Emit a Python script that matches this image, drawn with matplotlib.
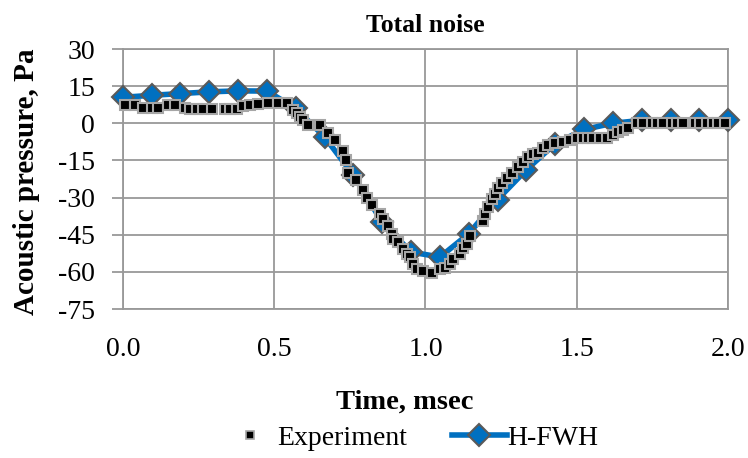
import matplotlib
matplotlib.use("Agg")
import matplotlib.pyplot as plt
from matplotlib.lines import Line2D

plt.rcParams['font.family'] = ['Liberation Serif', 'DejaVu Serif']
plt.rcParams['axes.unicode_minus'] = False

# experiment samples (time in msec, pressure in Pa)
exp_t = [0.007, 0.040, 0.066, 0.096, 0.116, 0.149, 0.172, 0.205, 0.221, 0.245,
         0.264, 0.294, 0.337, 0.354, 0.377, 0.397, 0.420, 0.446, 0.479, 0.512,
         0.542, 0.562, 0.575, 0.585, 0.595, 0.612, 0.651, 0.678, 0.701, 0.727,
         0.737, 0.744, 0.770, 0.793, 0.807, 0.823, 0.850, 0.860, 0.876, 0.889,
         0.893, 0.909, 0.926, 0.939, 0.949, 0.959, 0.972, 0.992, 1.021, 1.048,
         1.064, 1.081, 1.091, 1.114, 1.124, 1.137, 1.147, 1.190, 1.197, 1.207,
         1.220, 1.230, 1.240, 1.253, 1.269, 1.286, 1.306, 1.322, 1.339, 1.355,
         1.372, 1.388, 1.405, 1.428, 1.455, 1.478, 1.501, 1.521, 1.537, 1.554,
         1.577, 1.600, 1.620, 1.636, 1.653, 1.669, 1.699, 1.719, 1.749, 1.765,
         1.785, 1.815, 1.831, 1.851, 1.891, 1.907, 1.931, 1.950, 1.967, 1.990]
exp_p = [7.3, 7.3, 6.0, 6.0, 6.0, 7.3, 7.3, 6.0, 5.7, 5.7,
         5.7, 5.7, 5.7, 5.7, 5.7, 6.9, 7.3, 7.7, 8.0, 8.0,
         8.0, 5.5, 4.0, 2.6, 1.4, -0.6, -0.8, -4.0, -6.9, -11.0,
         -15.0, -19.9, -22.7, -26.8, -30.0, -33.0, -36.5, -38.5, -41.5, -44.6,
         -46.6, -48.0, -50.7, -52.7, -54.0, -56.7, -58.8, -59.6, -60.4, -58.8,
         -58.4, -56.7, -54.7, -52.7, -50.3, -48.6, -45.4, -39.3, -36.5, -34.0,
         -30.4, -28.4, -26.3, -24.3, -21.9, -19.9, -17.8, -15.8, -13.8, -12.2,
         -11.8, -10.1, -8.9, -8.1, -7.7, -6.9, -6.0, -6.0, -6.0, -6.0,
         -6.0, -6.0, -4.9, -3.6, -2.8, -2.0, 0.0, 0.0, 0.0, 0.0,
         0.0, 0.0, 0.0, 0.0, 0.0, 0.0, 0.0, 0.0, 0.0, 0.0]

# H-FWH prediction
fwh_t = [0.0, 0.095, 0.19, 0.286, 0.381, 0.476, 0.571, 0.667, 0.762, 0.857, 0.952,
         1.048, 1.143, 1.238, 1.333, 1.429, 1.524, 1.619, 1.714, 1.81, 1.905, 2.0]
fwh_p = [10.5, 11.3, 12.0, 12.7, 13.1, 13.0, 6.0, -5.6, -21.0, -40.0, -52.0,
         -54.0, -44.6, -30.8, -18.8, -8.2, -2.5, 0.0, 1.2, 1.2, 1.2, 1.2]

x_ticks = [0.0, 0.5, 1.0, 1.5, 2.0]
y_ticks = [30, 15, 0, -15, -30, -45, -60, -75]

blue = "#0070C0"
grid_c = "#999999"

fig = plt.figure(figsize=(7.48, 4.58), dpi=100)
ax = fig.add_axes([0.1644, 0.3253, 0.8089, 0.5677])

ax.plot(fwh_t, fwh_p, color=blue, lw=4, marker="D", ms=11.5,
        mfc=blue, mec="#5a5a5a", mew=1.5, zorder=3, clip_on=False)
ax.plot(exp_t, exp_p, ls="none", marker="s", ms=7, mfc="black",
        mec="#a6a6a6", mew=1.5, zorder=4, clip_on=False)

ax.set_xlim(0, 2.0)
ax.set_ylim(-75, 30)
ax.set_xticks(x_ticks)
ax.set_xticklabels(["%.1f" % v for v in x_ticks])
ax.set_yticks(y_ticks)
ax.grid(True, color=grid_c, lw=1.3)
ax.set_axisbelow(True)
for s in ax.spines.values():
    s.set_color(grid_c)
    s.set_linewidth(1.3)
ax.tick_params(axis="y", length=8, width=1.3, color=grid_c, labelsize=20, pad=12)
ax.tick_params(axis="x", length=0, labelsize=20, pad=20)

ax.set_title("Total noise", fontsize=18.5, fontweight="bold", pad=12)
fig.text(27 / 748, 1 - 182 / 458, "Acoustic pressure, Pa", fontsize=21, fontweight="bold",
         rotation=90, ha="center", va="center")
fig.text(405 / 748, 1 - 402 / 458, "Time, msec", fontsize=20.5, fontweight="bold",
         ha="center", va="center")

handles = [Line2D([], [], ls="none", marker="s", ms=6, mfc="black", mec="#a6a6a6", mew=1.2),
           Line2D([], [], color=blue, lw=4, marker="D", ms=11.5, mfc=blue, mec="#5a5a5a", mew=1.5)]
fig.legend(handles, ["Experiment", "H-FWH"], loc="center", bbox_to_anchor=(410 / 748, 1 - 438 / 458),
           ncol=2, frameon=False, fontsize=20, handlelength=2.0, handletextpad=0.0,
           columnspacing=1.6, borderpad=0)

fig.savefig("out.png", dpi=100)
